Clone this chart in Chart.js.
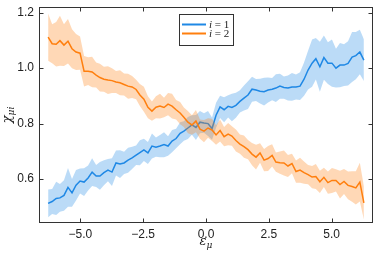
<!DOCTYPE html>
<html>
<head>
<meta charset="utf-8">
<script src="https://cdn.jsdelivr.net/npm/chart.js@4.4.0/dist/chart.umd.min.js"></script>
<style>
  html, body { margin: 0; padding: 0; background: #fff; }
</style>
</head>
<body>
<canvas id="chart" width="381" height="254"></canvas>
<script>
// --- data ---
const xs = [
  -6.28, -6.12, -5.96, -5.81, -5.65, -5.49, -5.33, -5.17, -5.01, -4.85,
  -4.69, -4.53, -4.37, -4.22, -4.06, -3.90, -3.74, -3.58, -3.42, -3.26,
  -3.10, -2.94, -2.78, -2.63, -2.47, -2.31, -2.15, -1.99, -1.83, -1.67,
  -1.51, -1.35, -1.19, -1.03, -0.88, -0.72, -0.56, -0.40, -0.24, -0.08,
   0.08,  0.24,  0.40,  0.56,  0.72,  0.88,  1.03,  1.19,  1.35,  1.51,
   1.67,  1.83,  1.99,  2.15,  2.31,  2.47,  2.63,  2.78,  2.94,  3.10,
   3.26,  3.42,  3.58,  3.74,  3.90,  4.06,  4.22,  4.37,  4.53,  4.69,
   4.85,  5.01,  5.17,  5.33,  5.49,  5.65,  5.81,  5.96,  6.12,  6.28
];
const chi1 = [
  0.512, 0.519, 0.530, 0.532, 0.541, 0.570, 0.550, 0.578, 0.593, 0.589,
  0.604, 0.625, 0.611, 0.611, 0.623, 0.632, 0.625, 0.658, 0.654, 0.658,
  0.668, 0.676, 0.686, 0.695, 0.705, 0.694, 0.719, 0.715, 0.719, 0.724,
  0.719, 0.737, 0.746, 0.765, 0.773, 0.784, 0.795, 0.786, 0.805, 0.802,
  0.800, 0.782, 0.830, 0.860, 0.850, 0.862, 0.858, 0.866, 0.880, 0.892,
  0.903, 0.924, 0.921, 0.917, 0.915, 0.921, 0.924, 0.928, 0.935, 0.930,
  0.928, 0.932, 0.932, 0.935, 0.960, 0.993, 1.018, 1.034, 1.005, 1.038,
  1.018, 1.018, 1.000, 1.011, 1.011, 1.017, 1.040, 1.045, 1.058, 1.029
];
const chi2 = [
  1.112, 1.088, 1.086, 1.099, 1.083, 1.097, 1.070, 1.058, 1.054, 0.989,
  0.989, 0.986, 0.975, 0.966, 0.960, 0.957, 0.955, 0.950, 0.947, 0.941,
  0.935, 0.932, 0.923, 0.903, 0.888, 0.859, 0.845, 0.859, 0.863, 0.858,
  0.870, 0.863, 0.850, 0.838, 0.823, 0.805, 0.795, 0.809, 0.780, 0.773,
  0.784, 0.777, 0.759, 0.775, 0.753, 0.762, 0.755, 0.739, 0.726, 0.717,
  0.706, 0.690, 0.679, 0.694, 0.668, 0.674, 0.685, 0.661, 0.659, 0.658,
  0.647, 0.656, 0.627, 0.632, 0.623, 0.616, 0.607, 0.609, 0.590, 0.606,
  0.587, 0.595, 0.595, 0.580, 0.591, 0.577, 0.573, 0.568, 0.589, 0.514
];
// half width of the shaded bands
const err1 = [
  0.050, 0.045, 0.060, 0.050, 0.055, 0.070, 0.050, 0.055, 0.045, 0.050,
  0.045, 0.050, 0.040, 0.050, 0.045, 0.040, 0.050, 0.045, 0.050, 0.040,
  0.045, 0.040, 0.035, 0.045, 0.040, 0.040, 0.045, 0.035, 0.040, 0.045,
  0.035, 0.040, 0.035, 0.040, 0.035, 0.040, 0.035, 0.045, 0.040, 0.035,
  0.045, 0.040, 0.045, 0.040, 0.045, 0.040, 0.050, 0.045, 0.040, 0.045,
  0.050, 0.045, 0.040, 0.045, 0.050, 0.045, 0.040, 0.050, 0.045, 0.040,
  0.045, 0.050, 0.045, 0.050, 0.060, 0.070, 0.085, 0.075, 0.090, 0.080,
  0.075, 0.085, 0.070, 0.080, 0.075, 0.080, 0.090, 0.085, 0.080, 0.075
];
const err2 = [
  0.085, 0.070, 0.080, 0.090, 0.075, 0.080, 0.070, 0.065, 0.060, 0.055,
  0.050, 0.055, 0.045, 0.050, 0.045, 0.050, 0.045, 0.040, 0.045, 0.040,
  0.045, 0.040, 0.035, 0.040, 0.045, 0.040, 0.035, 0.040, 0.045, 0.035,
  0.040, 0.045, 0.035, 0.040, 0.035, 0.040, 0.035, 0.040, 0.035, 0.040,
  0.035, 0.040, 0.035, 0.040, 0.035, 0.040, 0.035, 0.040, 0.035, 0.040,
  0.035, 0.040, 0.045, 0.035, 0.040, 0.045, 0.040, 0.035, 0.040, 0.045,
  0.040, 0.035, 0.040, 0.045, 0.040, 0.035, 0.040, 0.045, 0.040, 0.035,
  0.040, 0.045, 0.040, 0.050, 0.045, 0.050, 0.055, 0.060, 0.070, 0.060
];
const seriesNames = ['1', '2'];
const xTickValues = [-5, -2.5, 0, 2.5, 5];
const xTickLabels = ['\u22125.0', '\u22122.5', '0.0', '2.5', '5.0'];
const yTickValues = [0.6, 0.8, 1.0, 1.2];
const yTickLabels = ['0.6', '0.8', '1.0', '1.2'];

// --- styles ---
const BLUE = '#1f88e5';
const ORANGE = '#ff7f0e';
const BLUE_BAND = 'rgba(31, 136, 229, 0.3)';
const ORANGE_BAND = 'rgba(255, 127, 14, 0.3)';
const FRAME = '#333';
const TEXT = '#222';

const pts = (ys, sign, err) => xs.map((x, i) => ({ x: x, y: ys[i] + (err ? sign * err[i] : 0) }));

function bandPair(ys, err, color, order) {
  return [
    { data: pts(ys, -1, err), borderWidth: 0, pointRadius: 0, fill: false, order: order },
    { data: pts(ys, 1, err), borderWidth: 0, pointRadius: 0, fill: '-1', backgroundColor: color, order: order }
  ];
}

// frame, inward ticks, legend and axis titles
const decorations = {
  id: 'decorations',
  afterDraw(chart) {
    const { ctx, chartArea: a, scales } = chart;
    ctx.save();
    ctx.strokeStyle = FRAME;
    ctx.lineWidth = 1;
    const L = Math.round(a.left) + 0.5, R = Math.round(a.right) - 0.5;
    const T = Math.round(a.top) + 0.5, B = Math.round(a.bottom) - 0.5;
    ctx.strokeRect(L, T, R - L, B - T);

    const tl = 4;
    ctx.beginPath();
    xTickValues.forEach(v => {
      const px = Math.round(scales.x.getPixelForValue(v)) + 0.5;
      ctx.moveTo(px, B); ctx.lineTo(px, B - tl);
      ctx.moveTo(px, T); ctx.lineTo(px, T + tl);
    });
    yTickValues.forEach(v => {
      const py = Math.round(scales.y.getPixelForValue(v)) + 0.5;
      ctx.moveTo(L, py); ctx.lineTo(L + tl, py);
      ctx.moveTo(R, py); ctx.lineTo(R - tl, py);
    });
    ctx.stroke();

    // legend box
    const bx = 179.5, by = 14.5, bw = 54, bh = 31;
    ctx.fillStyle = '#fff';
    ctx.fillRect(bx, by, bw, bh);
    ctx.strokeStyle = FRAME;
    ctx.strokeRect(bx, by, bw, bh);
    const colors = [BLUE, ORANGE];
    seriesNames.forEach((name, k) => {
      const ly = 24.5 + k * 9;
      ctx.strokeStyle = colors[k];
      ctx.lineWidth = 2;
      ctx.beginPath();
      ctx.moveTo(182, ly); ctx.lineTo(206, ly);
      ctx.stroke();
      ctx.fillStyle = TEXT;
      ctx.textBaseline = 'middle';
      ctx.textAlign = 'left';
      ctx.font = 'italic 11px "Liberation Serif"';
      ctx.fillText('i', 209, ly + 0.5);
      const iw = ctx.measureText('i').width;
      ctx.font = '11px "Liberation Serif"';
      ctx.fillText(' = ' + name, 209 + iw, ly + 0.5);
    });

    // axis titles
    ctx.fillStyle = TEXT;
    ctx.textBaseline = 'alphabetic';
    ctx.textAlign = 'left';
    // x: epsilon_mu
    ctx.font = 'italic 13px "DejaVu Serif"';
    const ew = ctx.measureText('\u03b5').width;
    ctx.font = 'italic 9px "DejaVu Serif"';
    const mw = ctx.measureText('\u03bc').width;
    const xc = (a.left + a.right) / 2;
    let sx = xc - (ew + mw) / 2;
    ctx.font = 'italic 13px "DejaVu Serif"';
    ctx.fillText('\u03b5', sx, 245);
    ctx.font = 'italic 9px "DejaVu Serif"';
    ctx.fillText('\u03bc', sx + ew, 248);

    // y: chi_{mu i}
    ctx.save();
    ctx.translate(11, (a.top + a.bottom) / 2);
    ctx.rotate(-Math.PI / 2);
    ctx.font = 'italic 13px "DejaVu Serif"';
    const cw = ctx.measureText('\u03c7').width;
    ctx.font = 'italic 9px "DejaVu Serif"';
    const sw = ctx.measureText('\u03bci').width;
    sx = -(cw + sw) / 2;
    ctx.font = 'italic 13px "DejaVu Serif"';
    ctx.fillText('\u03c7', sx, 0);
    ctx.font = 'italic 9px "DejaVu Serif"';
    ctx.fillText('\u03bci', sx + cw, 3);
    ctx.restore();

    ctx.restore();
  }
};

const tickFont = { family: '"Liberation Sans", sans-serif', size: 12 };

new Chart(document.getElementById('chart'), {
  type: 'line',
  data: {
    datasets: [
      ...bandPair(chi1, err1, BLUE_BAND, 6),
      { data: pts(chi1), borderColor: BLUE, borderWidth: 1.5, pointRadius: 0, fill: false, order: 5 },
      ...bandPair(chi2, err2, ORANGE_BAND, 4),
      { data: pts(chi2), borderColor: ORANGE, borderWidth: 1.5, pointRadius: 0, fill: false, order: 3 }
    ]
  },
  options: {
    responsive: false,
    devicePixelRatio: 1,
    animation: false,
    layout: { padding: { top: 7, right: 8, left: 0, bottom: 0 } },
    plugins: { legend: { display: false }, tooltip: { enabled: false } },
    elements: { line: { tension: 0 } },
    scales: {
      x: {
        type: 'linear',
        min: -6.643, max: 6.643,
        grid: { display: false, drawTicks: false },
        border: { display: false },
        afterBuildTicks: s => { s.ticks = xTickValues.map(v => ({ value: v })); },
        afterFit: s => { s.height = 31; s.paddingLeft = 0; s.paddingRight = 0; },
        ticks: {
          font: tickFont, color: TEXT, padding: 4, maxRotation: 0, autoSkip: false,
          callback: v => xTickLabels[xTickValues.indexOf(v)]
        }
      },
      y: {
        type: 'linear',
        min: 0.4414, max: 1.2205,
        grid: { display: false, drawTicks: false },
        border: { display: false },
        afterBuildTicks: s => { s.ticks = yTickValues.map(v => ({ value: v })); },
        afterFit: s => { s.width = 39; s.paddingTop = 0; s.paddingBottom = 0; },
        ticks: {
          font: tickFont, color: TEXT, padding: 5,
          callback: v => yTickLabels[yTickValues.indexOf(v)]
        }
      }
    }
  },
  plugins: [decorations]
});
</script>
</body>
</html>
